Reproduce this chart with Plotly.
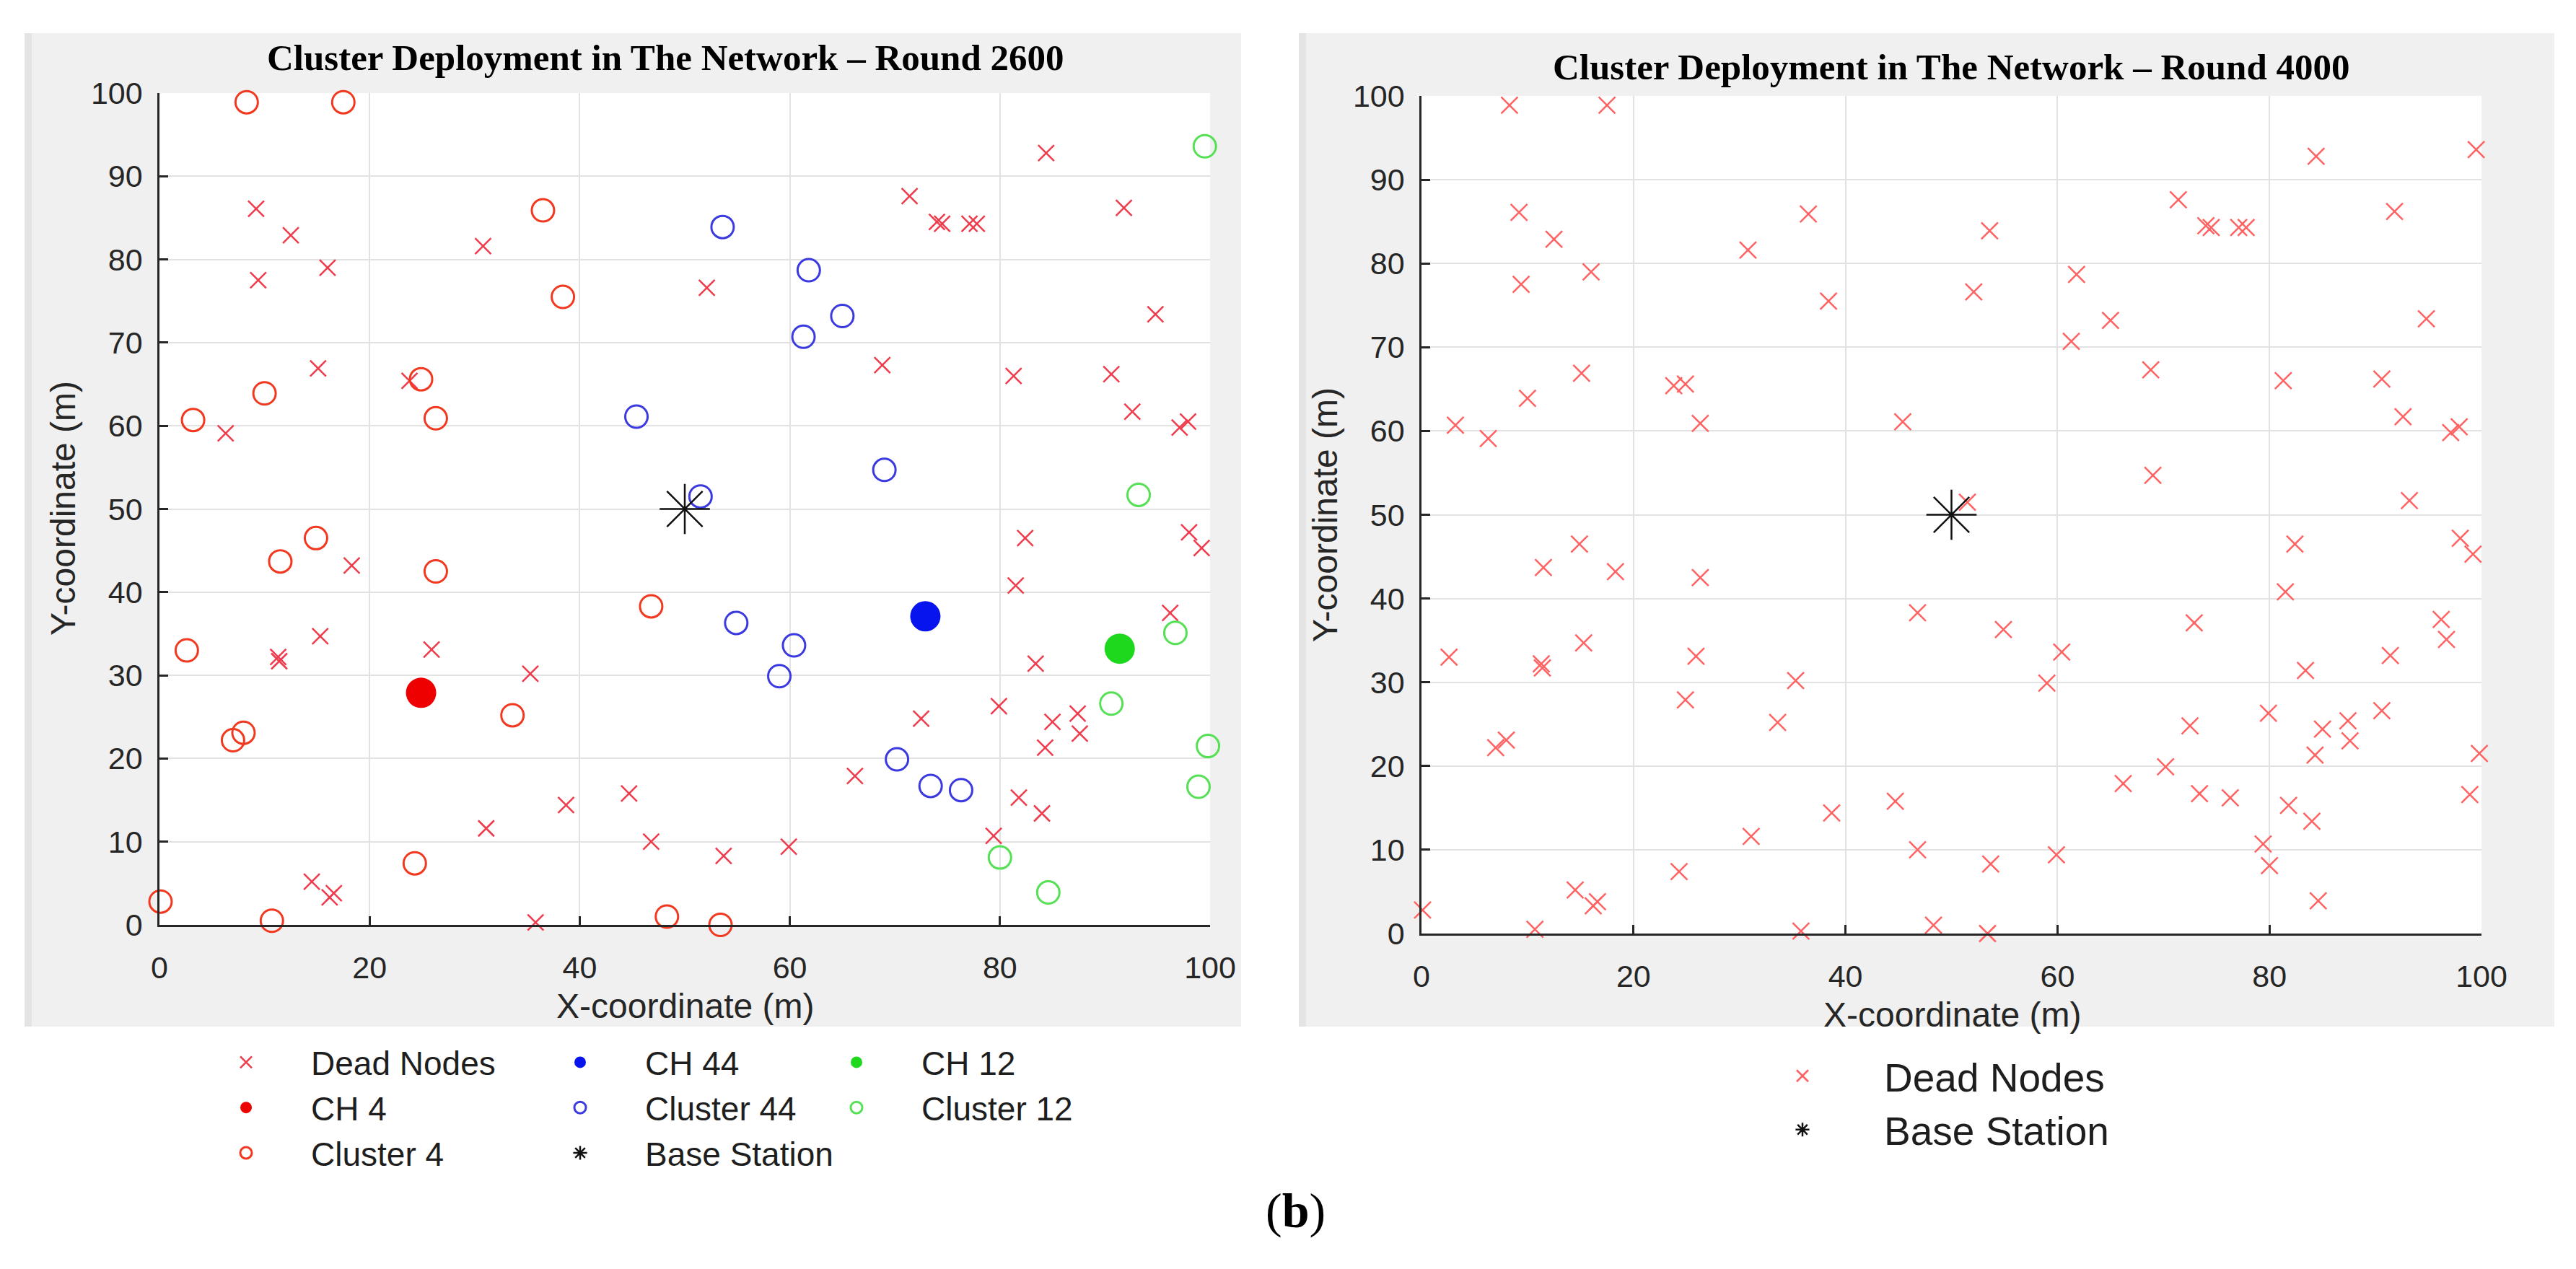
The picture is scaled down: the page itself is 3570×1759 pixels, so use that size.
import plotly.graph_objects as go

W, H = 3570, 1759

###############################################################################
# Round 2600 node positions, by role (m)
###############################################################################
dead_x = [9.2, 12.5, 9.4, 16.0, 30.8, 15.1, 23.8, 6.3, 84.4, 71.4, 74.0, 74.5, 77.1, 77.8,
          91.8, 52.1, 94.8, 68.8, 81.3, 90.6, 92.6, 97.1, 97.9, 18.3, 11.3, 11.4, 15.3, 25.9,
          35.3, 44.7, 38.7, 31.1, 46.8, 14.5, 16.2, 16.6, 35.8, 82.4, 98.0, 99.2, 81.5, 96.2,
          83.4, 79.9, 72.5, 87.4, 85.0, 87.6, 84.3, 66.2, 81.8, 84.0, 79.4, 59.9, 53.7]
dead_y = [86.1, 82.9, 77.5, 79.0, 81.6, 66.9, 65.4, 59.1, 92.8, 87.6, 84.5, 84.3, 84.3, 84.3,
          86.2, 76.6, 73.4, 67.3, 66.0, 66.2, 61.7, 59.8, 60.5, 43.2, 32.2, 31.7, 34.7, 33.1,
          30.2, 15.8, 14.4, 11.6, 10.0, 5.2, 3.3, 3.8, 0.3, 46.5, 47.2, 45.3, 40.8, 37.5,
          31.4, 26.3, 24.8, 25.4, 24.4, 23.0, 21.3, 17.9, 15.3, 13.4, 10.7, 9.4, 8.3]

ch4_x, ch4_y = [24.9], [27.9]
c4_x = [8.3, 17.5, 36.5, 38.4, 10.0, 24.9, 3.2, 26.3, 14.9, 11.5, 26.3, 46.8, 2.6, 33.6,
        7.0, 8.0, 24.3, 0.1, 10.7, 48.3, 53.4]
c4_y = [98.9, 98.9, 85.9, 75.5, 63.9, 65.6, 60.7, 60.9, 46.5, 43.7, 42.5, 38.3, 33.0, 25.2,
        22.2, 23.1, 7.4, 2.8, 0.5, 1.0, 0.0]

ch44_x, ch44_y = [72.9], [37.1]
c44_x = [53.6, 61.8, 65.0, 61.3, 45.4, 69.0, 51.5, 54.9, 60.4, 59.0, 70.2, 73.4, 76.3]
c44_y = [83.9, 78.7, 73.2, 70.7, 61.1, 54.7, 51.5, 36.3, 33.6, 29.9, 19.9, 16.7, 16.2]

ch12_x, ch12_y = [91.4], [33.2]
c12_x = [99.5, 93.2, 96.7, 90.6, 99.8, 98.9, 80.0, 84.6]
c12_y = [93.6, 51.7, 35.1, 26.6, 21.5, 16.6, 8.1, 3.9]

bs_x, bs_y = [50], [50]

# round 4000: every node is dead
all_x = dead_x + ch4_x + c4_x + ch44_x + c44_x + ch12_x + c12_x
all_y = dead_y + ch4_y + c4_y + ch44_y + c44_y + ch12_y + c12_y

titles = ["Cluster Deployment in The Network \u2013 Round 2600",
          "Cluster Deployment in The Network \u2013 Round 4000"]

SANS = "Liberation Sans, Arial, sans-serif"
SERIF = "Liberation Serif, Times New Roman, serif"
INK = "#262626"


def pts(x, y, name, symbol, color, size, lw, legend, rank, xa="x", ya="y"):
    return go.Scatter(
        x=x, y=y, mode="markers", name=name, legend=legend, legendrank=rank,
        xaxis=xa, yaxis=ya, cliponaxis=False,
        marker=dict(symbol=symbol, color=color, size=size, line=dict(width=lw, color=color)),
    )


fig = go.Figure()
# left panel
fig.add_trace(pts(dead_x, dead_y, "Dead Nodes", "x-thin-open", "#ef3b4c", 22, 2.5, "legend", 1))
fig.add_trace(pts(c4_x, c4_y, "Cluster 4", "circle-open", "#f2381f", 31, 3, "legend", 3))
fig.add_trace(pts(ch4_x, ch4_y, "CH 4", "circle", "#ee0000", 42, 0, "legend", 2))
fig.add_trace(pts(c44_x, c44_y, "Cluster 44", "circle-open", "#3a3ae0", 31, 3, "legend2", 2))
fig.add_trace(pts(ch44_x, ch44_y, "CH 44", "circle", "#0814ee", 42, 0, "legend2", 1))
fig.add_trace(pts(bs_x, bs_y, "Base Station", "asterisk-open", "#111111", 58, 2.5, "legend2", 3))
fig.add_trace(pts(c12_x, c12_y, "Cluster 12", "circle-open", "#55e055", 31, 3, "legend3", 2))
fig.add_trace(pts(ch12_x, ch12_y, "CH 12", "circle", "#1ed81e", 42, 0, "legend3", 1))
# right panel
fig.add_trace(pts(all_x, all_y, "Dead Nodes", "x-thin-open", "#ff6262", 23, 2.5, "legend4", 1, "x2", "y2"))
fig.add_trace(pts(bs_x, bs_y, "Base Station", "asterisk-open", "#111111", 58, 2.5, "legend4", 2, "x2", "y2"))

axis = dict(range=[0, 100], showgrid=True, gridcolor="#e2e2e2", gridwidth=2, zeroline=False,
            showline=True, linecolor=INK, linewidth=2.5, mirror=False,
            ticks="inside", ticklen=12, tickwidth=2.5, tickcolor=INK,
            tickfont=dict(family=SANS, size=43, color=INK), fixedrange=True)

fig.update_layout(
    width=W, height=H,
    margin=dict(l=0, r=0, t=0, b=0, pad=0, autoexpand=False),
    paper_bgcolor="white", plot_bgcolor="rgba(0,0,0,0)",
    xaxis=dict(axis, domain=[213 / W, 1669 / W], anchor="y", dtick=20, ticklabelstandoff=20),
    yaxis=dict(axis, domain=[1 - 1274 / H, 1 - 121 / H], anchor="x", dtick=10, ticklabelstandoff=12),
    xaxis2=dict(axis, domain=[1962 / W, 3431 / W], anchor="y2", dtick=20, ticklabelstandoff=20),
    yaxis2=dict(axis, domain=[1 - 1286 / H, 1 - 125 / H], anchor="x2", dtick=10, ticklabelstandoff=12),
)

# figure panels (grey) and white axes boxes
shapes = []
for x0, x1 in [(26, 1712), (1792, 3532)]:
    shapes.append(dict(type="rect", xref="paper", yref="paper", x0=x0 / W, x1=x1 / W,
                       y0=1 - 1415 / H, y1=1 - 38 / H, fillcolor="#f0f0f0",
                       line=dict(width=0), layer="below"))
    shapes.append(dict(type="rect", xref="paper", yref="paper", x0=x0 / W, x1=(x0 + 10) / W,
                       y0=1 - 1415 / H, y1=1 - 38 / H, fillcolor="#e4e4e4",
                       line=dict(width=0), layer="below"))
for xr, yr in [("x", "y"), ("x2", "y2")]:
    shapes.append(dict(type="rect", xref=xr + " domain", yref=yr + " domain", x0=0, x1=1, y0=0, y1=1,
                       fillcolor="white", line=dict(width=0), layer="below"))
fig.update_layout(shapes=shapes)

ann = [
    dict(text="<b>" + titles[0] + "</b>", x=915 / W, y=1 - 72 / H,
         font=dict(family=SERIF, size=51, color="black")),
    dict(text="<b>" + titles[1] + "</b>", x=2696 / W, y=1 - 85 / H,
         font=dict(family=SERIF, size=51, color="black")),
    dict(text="X-coordinate (m)", x=941 / W, y=1 - 1386 / H, font=dict(family=SANS, size=48, color=INK)),
    dict(text="X-coordinate (m)", x=2697 / W, y=1 - 1398 / H, font=dict(family=SANS, size=48, color=INK)),
    dict(text="Y-coordinate (m)", x=80 / W, y=1 - 697 / H, textangle=-90,
         font=dict(family=SANS, size=48, color=INK)),
    dict(text="Y-coordinate (m)", x=1828 / W, y=1 - 705 / H, textangle=-90,
         font=dict(family=SANS, size=48, color=INK)),
    dict(text="(<b>b</b>)", x=1787 / W, y=1 - 1670 / H, font=dict(family=SERIF, size=68, color="black")),
]
for a in ann:
    fig.add_annotation(xref="paper", yref="paper", showarrow=False, xanchor="center", yanchor="middle", **a)

leg = dict(xanchor="left", yanchor="top", orientation="v", bgcolor="rgba(0,0,0,0)",
           borderwidth=0, itemwidth=170, tracegroupgap=0, traceorder="normal",
           font=dict(family=SANS, size=46, color="#1e1e1e"))
fig.update_layout(
    legend=dict(leg, x=243 / W, y=1 - 1428 / H),
    legend2=dict(leg, x=706 / W, y=1 - 1428 / H),
    legend3=dict(leg, x=1089 / W, y=1 - 1428 / H),
    legend4=dict(leg, x=2377 / W, y=1 - 1441 / H, itemwidth=216,
                 font=dict(family=SANS, size=55, color="#1e1e1e")),
)

fig.write_html("out.html")
